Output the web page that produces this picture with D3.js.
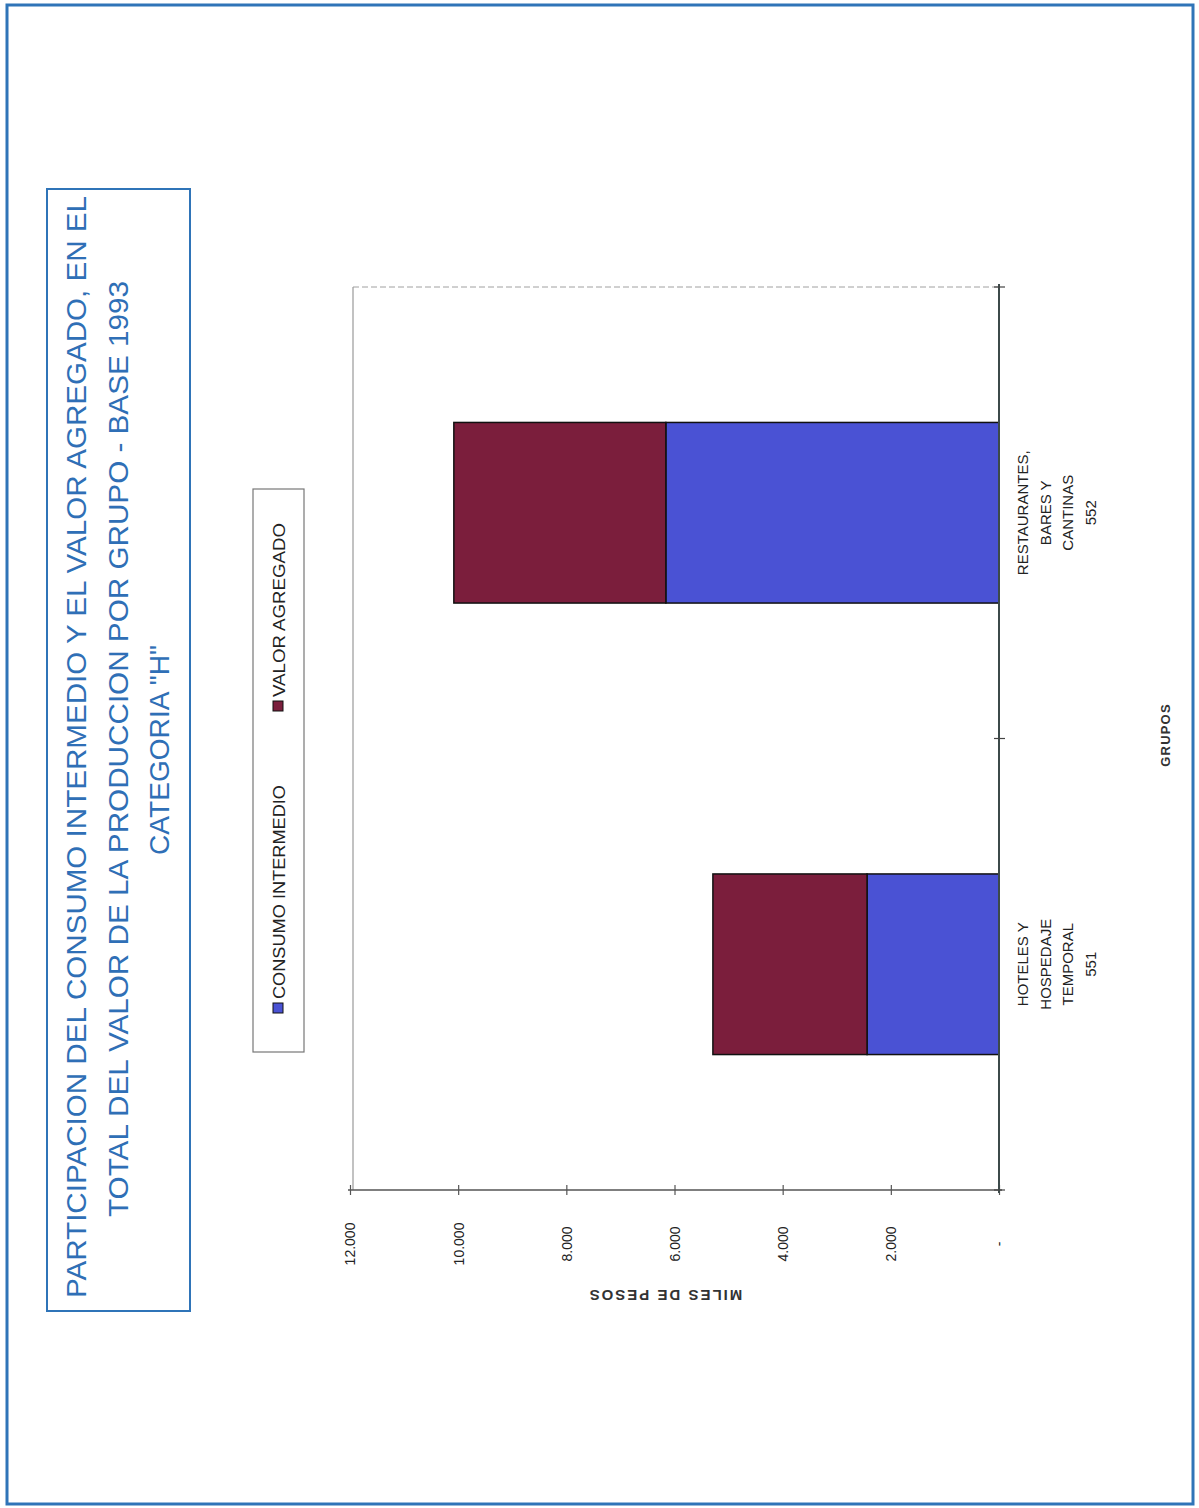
<!DOCTYPE html>
<html>
<head>
<meta charset="utf-8">
<script src="https://cdn.jsdelivr.net/npm/d3@7"></script>
<style>
  html, body { margin: 0; padding: 0; background: #fff; }
  svg { display: block; }
  text { font-family: "Liberation Sans", Arial, sans-serif; }
</style>
</head>
<body>
<svg id="chart" width="1199" height="1508"></svg>
<script>
// ---- data ----
const categories = ["HOTELES Y|HOSPEDAJE|TEMPORAL|551", "RESTAURANTES,|BARES Y|CANTINAS|552"];
const consumoIntermedio = [2440, 6160];
const valorAgregado = [2850, 3920];
const seriesNames = ["CONSUMO INTERMEDIO", "VALOR AGREGADO"];
const tickValues = [0, 2000, 4000, 6000, 8000, 10000, 12000];
const titleLines = [
  "PARTICIPACION DEL CONSUMO INTERMEDIO Y EL VALOR AGREGADO, EN EL",
  "TOTAL DEL VALOR DE LA PRODUCCION POR GRUPO - BASE 1993",
  "CATEGORIA \"H\""
];
const valueAxisTitle = "MILES DE PESOS";
const categoryAxisTitle = "GRUPOS";

// ---- styles ----
const colors = ["#4a52d4", "#7b1e3c"];
const frameBlue = "#2f74b8";

const svg = d3.select("#chart");

// outer frame
svg.append("rect").attr("x", 7).attr("y", 5).attr("width", 1186).attr("height", 1499)
  .attr("fill", "none").attr("stroke", frameBlue).attr("stroke-width", 3);

// title box
svg.append("rect").attr("x", 47).attr("y", 189).attr("width", 143).attr("height", 1122)
  .attr("fill", "none").attr("stroke", frameBlue).attr("stroke-width", 2);
const titleSpecs = [
  {x: 76, len: 1102, c: 747},
  {x: 118, len: 936, c: 749},
  {x: 159, len: 210, c: 750}
];
titleLines.forEach((t, i) => {
  const s = titleSpecs[i];
  svg.append("text")
    .attr("transform", `translate(${s.x},${s.c}) rotate(-90)`)
    .attr("text-anchor", "middle").attr("dy", "0.36em")
    .attr("font-size", 27).attr("fill", "#2f6fb6")
    .attr("textLength", s.len).attr("lengthAdjust", "spacingAndGlyphs")
    .text(t);
});

// scales
const x = d3.scaleLinear().domain([0, 12000]).range([999, 350]);
const y = d3.scaleBand().domain(categories).range([1190, 287]).paddingInner(0.6).paddingOuter(0.3);

// plot area borders
svg.append("line").attr("x1", 353).attr("x2", 999).attr("y1", 287).attr("y2", 287)
  .attr("stroke", "#a0a0a0").attr("stroke-width", 1).attr("stroke-dasharray", "6,3");
svg.append("line").attr("x1", 353).attr("x2", 353).attr("y1", 287).attr("y2", 1190)
  .attr("stroke", "#999").attr("stroke-width", 1.2);

// stacked bars
const stackData = categories.map((c, i) => ({cat: c, ci: consumoIntermedio[i], va: valorAgregado[i]}));
const stack = d3.stack().keys(["ci", "va"])(stackData);
svg.append("g").selectAll("g").data(stack).join("g")
  .attr("fill", (d, i) => colors[i])
  .selectAll("rect").data(d => d).join("rect")
  .attr("x", d => x(d[1]))
  .attr("width", d => x(d[0]) - x(d[1]))
  .attr("y", d => y(d.data.cat))
  .attr("height", y.bandwidth())
  .attr("stroke", "#111").attr("stroke-width", 1.5);

// value axis (horizontal, at bottom)
const xAxis = d3.axisBottom(x).tickValues(tickValues).tickSize(0)
  .tickFormat(v => v === 0 ? "-" : d3.format(",")(v).replace(/,/g, "."));
const gx = svg.append("g").attr("transform", "translate(0,1190)").call(xAxis);
gx.select(".domain").attr("stroke", "#555").attr("stroke-width", 1.5).attr("d", "M348,0H1002");
gx.selectAll(".tick line").attr("y1", -5).attr("y2", 5).attr("stroke", "#555").attr("stroke-width", 1.2);
gx.selectAll(".tick text")
  .attr("y", 0).attr("dy", "0.35em")
  .attr("transform", "translate(0,54) rotate(-90)")
  .attr("text-anchor", "middle")
  .attr("font-size", 14).attr("fill", "#222")
  .attr("font-family", "Liberation Sans, Arial, sans-serif");

// category axis (vertical, at value 0)
const yAxis = d3.axisRight(y).tickSize(0).tickFormat("");
const gy = svg.append("g").attr("transform", "translate(999,0)").call(yAxis);
gy.select(".domain").attr("stroke", "#3c4a4a").attr("stroke-width", 2).attr("d", "M0,284V1193");
const boundaries = [287, (y(categories[0]) + y(categories[1]) + y.bandwidth()) / 2, 1190];
gy.selectAll(".bnd").data(boundaries).join("line").attr("class", "bnd")
  .attr("x1", -5).attr("x2", 6).attr("y1", d => d).attr("y2", d => d)
  .attr("stroke", "#444").attr("stroke-width", 1.2);

// category labels
categories.forEach(c => {
  const lines = c.split("|");
  const cy = y(c) + y.bandwidth() / 2;
  lines.forEach((ln, j) => {
    svg.append("text")
      .attr("transform", `translate(${1023 + j * 22.5},${cy}) rotate(-90)`)
      .attr("text-anchor", "middle").attr("dy", "0.35em")
      .attr("font-size", 15).attr("fill", "#222")
      .text(ln);
  });
});

// axis titles
svg.append("text")
  .attr("transform", "translate(665,1295) rotate(180)")
  .attr("text-anchor", "middle").attr("dy", "0.35em")
  .attr("font-size", 15).attr("font-weight", "bold").attr("fill", "#333")
  .attr("letter-spacing", 2)
  .text(valueAxisTitle);
svg.append("text")
  .attr("transform", "translate(1165,735) rotate(-90)")
  .attr("text-anchor", "middle").attr("dy", "0.35em")
  .attr("font-size", 13).attr("font-weight", "bold").attr("fill", "#333")
  .attr("letter-spacing", 1.2)
  .text(categoryAxisTitle);

// legend
svg.append("rect").attr("x", 253).attr("y", 489).attr("width", 51).attr("height", 563)
  .attr("fill", "#fff").attr("stroke", "#777").attr("stroke-width", 1.2);
const legendPos = [1008, 706];
const legendLen = [214, 174];
seriesNames.forEach((n, i) => {
  const cy = legendPos[i];
  svg.append("rect").attr("x", 273).attr("y", cy - 5).attr("width", 10).attr("height", 10)
    .attr("fill", colors[i]).attr("stroke", "#111").attr("stroke-width", 1);
  svg.append("text")
    .attr("transform", `translate(279,${cy - 9}) rotate(-90)`)
    .attr("text-anchor", "start").attr("dy", "0.36em")
    .attr("font-size", 16).attr("fill", "#222")
    .attr("textLength", legendLen[i]).attr("lengthAdjust", "spacingAndGlyphs")
    .text(n);
});
</script>
</body>
</html>
